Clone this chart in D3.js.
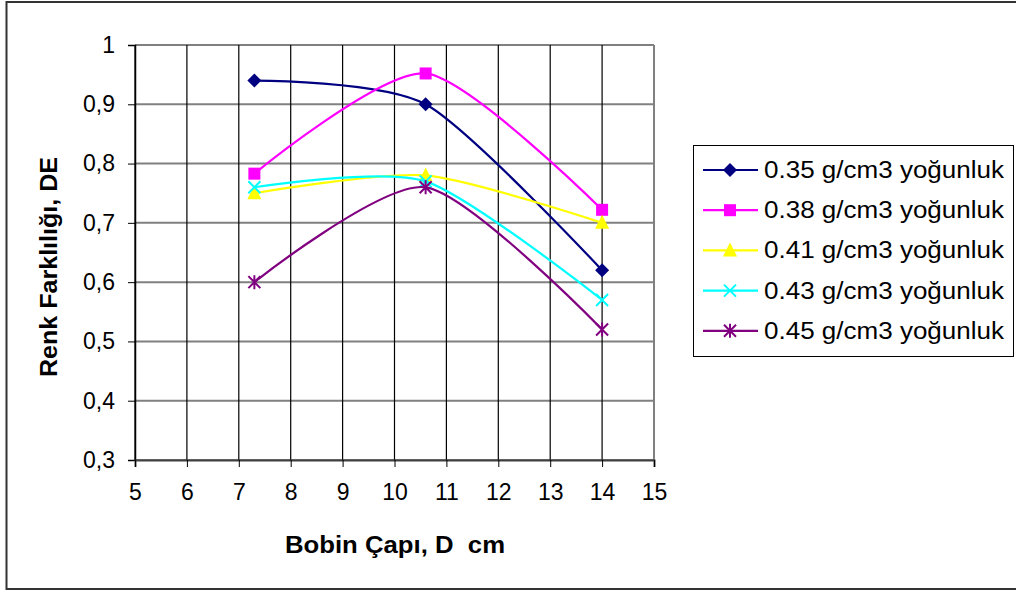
<!DOCTYPE html>
<html>
<head>
<meta charset="utf-8">
<script src="https://cdn.jsdelivr.net/npm/d3@7"></script>
<style>
    body { margin: 0; background: #fff; }
    text { font-family: "Liberation Sans", Arial, sans-serif; fill: #000; white-space: pre; }
</style>
</head>
<body>
<svg id="chart" width="1016" height="592"></svg>
<script>
const diameters = [7.3, 10.6, 14]
const seriesNames = [
    '0.35 g/cm3 yoğunluk',
    '0.38 g/cm3 yoğunluk',
    '0.41 g/cm3 yoğunluk',
    '0.43 g/cm3 yoğunluk',
    '0.45 g/cm3 yoğunluk'
]
const d035 = [0.94, 0.90, 0.62]
const d038 = [0.783, 0.952, 0.722]
const d041 = [0.75, 0.78, 0.70]
const d043 = [0.76, 0.77, 0.57]
const d045 = [0.60, 0.76, 0.52]
const xTicks = [5, 6, 7, 8, 9, 10, 11, 12, 13, 14, 15]
const yTicks = [0.3, 0.4, 0.5, 0.6, 0.7, 0.8, 0.9, 1]

const colors = ['#000080', '#ff00ff', '#ffff00', '#00ffff', '#800080']
const markers = ['diamond', 'square', 'triangle', 'cross', 'star']
const values = [d035, d038, d041, d043, d045]

const svg = d3.select('#chart')
const plotLeft = 135, plotRight = 654, plotTop = 45, plotBottom = 460

const x = d3.scaleLinear().domain([5, 15]).range([plotLeft, plotRight])
const y = d3.scaleLinear().domain([0.3, 1]).range([plotBottom, plotTop])

// outer frame
svg.append('rect')
    .attr('x', 6.5).attr('y', 2).attr('width', 1020).attr('height', 587)
    .attr('fill', 'none').attr('stroke', '#333').attr('stroke-width', 2)

// grid
svg.selectAll('.hgrid')
    .data(yTicks)
    .enter()
    .append('line')
    .attr('x1', plotLeft).attr('x2', plotRight)
    .attr('y1', d => y(d)).attr('y2', d => y(d))
    .attr('stroke', '#808080').attr('stroke-width', 2)

svg.selectAll('.vgrid')
    .data(xTicks)
    .enter()
    .append('line')
    .attr('x1', d => x(d)).attr('x2', d => x(d))
    .attr('y1', plotTop).attr('y2', plotBottom)
    .attr('stroke', d => (d === 15 ? '#808080' : '#000')).attr('stroke-width', d => (d === 15 ? 2 : 1.2))

// axes
const yAxis = d3.axisLeft(y).tickValues(yTicks).tickSize(7).tickPadding(13)
    .tickFormat(d => d3.format('.1f')(d).replace('.', ',').replace(/^1,0$/, '1'))
const gy = svg.append('g').attr('transform', `translate(${plotLeft},0)`).call(yAxis)
gy.select('.domain').attr('stroke', '#000').attr('stroke-width', 1.5)
gy.selectAll('.tick line').attr('stroke', '#000')
gy.selectAll('text').attr('font-size', 23).attr('font-family', '"Liberation Sans", Arial, sans-serif').attr('fill', '#000')

const xAxis = d3.axisBottom(x).tickValues(xTicks).tickSize(7).tickPadding(17).tickFormat(d3.format('d'))
const gx = svg.append('g').attr('transform', `translate(0,${plotBottom})`).call(xAxis)
gx.select('.domain').attr('stroke', '#404040').attr('stroke-width', 2)
gx.selectAll('.tick line').attr('stroke', '#000')
gx.selectAll('text').attr('font-size', 23).attr('font-family', '"Liberation Sans", Arial, sans-serif').attr('fill', '#000')

// axis titles
svg.append('text')
    .attr('x', 395).attr('y', 553)
    .attr('text-anchor', 'middle')
    .attr('font-size', 24).attr('font-weight', 'bold')
    .attr('textLength', 220).attr('lengthAdjust', 'spacingAndGlyphs')
    .text('Bobin Çapı, D  cm')

svg.append('text')
    .attr('transform', 'translate(57,267) rotate(-90)')
    .attr('text-anchor', 'middle')
    .attr('font-size', 24).attr('font-weight', 'bold')
    .attr('textLength', 220).attr('lengthAdjust', 'spacingAndGlyphs')
    .text('Renk Farklılığı, DE')

// markers
function drawMarker(g, type, color) {
    if (type === 'diamond') {
        g.append('path').attr('d', 'M0,-7L7,0L0,7L-7,0Z').attr('fill', color)
    } else if (type === 'square') {
        g.append('rect').attr('x', -6).attr('y', -6).attr('width', 12).attr('height', 12).attr('fill', color)
    } else if (type === 'triangle') {
        g.append('path').attr('d', 'M0,-8L7,6L-7,6Z').attr('fill', color)
    } else if (type === 'cross') {
        g.append('path').attr('d', 'M-6,-6L6,6M-6,6L6,-6').attr('stroke', color).attr('stroke-width', 2)
    } else {
        g.append('path').attr('d', 'M-6,-6L6,6M-6,6L6,-6M0,-7L0,7').attr('stroke', color).attr('stroke-width', 2)
    }
}

const line = d3.line()
    .x(d => x(d[0]))
    .y(d => y(d[1]))
    .curve(d3.curveCardinal.tension(0.25))

values.forEach((vals, i) => {
    const pts = diameters.map((d, j) => [d, vals[j]])
    svg.append('path')
        .attr('d', line(pts))
        .attr('fill', 'none')
        .attr('stroke', colors[i])
        .attr('stroke-width', 2.2)
    pts.forEach(p => {
        const g = svg.append('g').attr('transform', `translate(${x(p[0])},${y(p[1])})`)
        drawMarker(g, markers[i], colors[i])
    })
})

// legend
const legend = svg.append('g')
legend.append('rect')
    .attr('x', 693.5).attr('y', 145.5).attr('width', 320).attr('height', 211)
    .attr('fill', '#fff').attr('stroke', '#000').attr('stroke-width', 1)

seriesNames.forEach((name, i) => {
    const ly = 170 + i * 40.2
    legend.append('line')
        .attr('x1', 703).attr('x2', 758).attr('y1', ly).attr('y2', ly)
        .attr('stroke', colors[i]).attr('stroke-width', 2.2)
    drawMarker(legend.append('g').attr('transform', `translate(730,${ly})`), markers[i], colors[i])
    legend.append('text')
        .attr('x', 764).attr('y', ly + 8)
        .attr('font-size', 23)
        .attr('textLength', 240).attr('lengthAdjust', 'spacingAndGlyphs')
        .text(name)
})
</script>
</body>
</html>
